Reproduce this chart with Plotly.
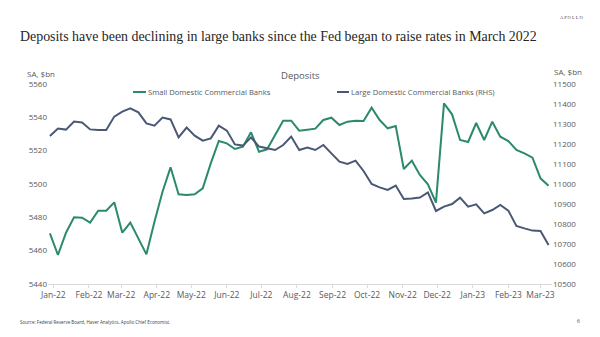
import pandas as pd
import plotly.graph_objects as go

# Weekly dates (H.8 Wednesdays)
dates = pd.date_range("2021-12-29", periods=63, freq="7D")

small_banks = [
    5470.4, 5457.4, 5470.8, 5480.0, 5479.8, 5476.8, 5484.0, 5484.0, 5489.0, 5470.8,
    5476.8, 5467.4, 5457.8, 5477.4, 5495.4, 5510.0, 5493.8, 5493.4, 5493.8, 5497.4,
    5512.4, 5525.8, 5524.4, 5521.0, 5522.4, 5531.0, 5519.4, 5520.8, 5529.4, 5538.0,
    5538.0, 5532.0, 5532.6, 5533.2, 5538.4, 5539.8, 5535.4, 5537.4, 5538.0, 5537.8,
    5545.8, 5538.4, 5533.4, 5534.8, 5509.0, 5514.0, 5505.4, 5499.8, 5488.8, 5548.4,
    5541.8, 5526.4, 5525.2, 5536.6, 5526.4, 5537.4, 5528.4, 5525.8, 5520.4, 5518.4,
    5515.8, 5503.4, 5499.0,
]

large_banks = [
    11240, 11277, 11272, 11312, 11308, 11273, 11270, 11270, 11337, 11362,
    11378, 11358, 11303, 11292, 11332, 11323, 11233, 11282, 11242, 11217,
    11228, 11292, 11267, 11198, 11192, 11233, 11187, 11178, 11170, 11195,
    11237, 11170, 11182, 11170, 11195, 11153, 11112, 11100, 11117, 11065,
    11000, 10983, 10970, 10992, 10925, 10928, 10932, 10958, 10865, 10887,
    10900, 10932, 10887, 10898, 10853, 10870, 10895, 10867, 10790, 10778,
    10767, 10765, 10695,
]

left_ticks = [5440, 5460, 5480, 5500, 5520, 5540, 5560]
right_ticks = [10500, 10600, 10700, 10800, 10900, 11000, 11100, 11200, 11300, 11400, 11500]
month_ticks = pd.date_range("2022-01-01", "2023-03-01", freq="MS")
month_labels = [d.strftime("%b-%y") for d in month_ticks]

GREEN = "#2B8A6C"
SLATE = "#4A5875"
GRAY = "#595959"
FONT = "Open Sans"

fig = go.Figure()
fig.add_trace(go.Scatter(x=dates, y=small_banks, mode="lines", name="Small Domestic Commercial Banks",
                         line=dict(color=GREEN, width=2), yaxis="y"))
fig.add_trace(go.Scatter(x=dates, y=large_banks, mode="lines", name="Large Domestic Commercial Banks (RHS)",
                         line=dict(color=SLATE, width=2), yaxis="y2"))

W, H = 600, 337
L, R, T, B = 48, 48, 84, 53
pw, ph = W - L - R, H - T - B

def px(x):
    return (x - L) / pw

def py(y):
    return (H - B - y) / ph

fig.update_layout(
    width=W, height=H,
    margin=dict(l=L, r=R, t=T, b=B),
    paper_bgcolor="white", plot_bgcolor="white",
    showlegend=False,
    font=dict(family=FONT, color=GRAY, size=8),
    xaxis=dict(
        type="date",
        range=["2021-12-27 08:00", "2023-03-11"],
        tickvals=month_ticks, ticktext=month_labels,
        showgrid=False, zeroline=False,
        showline=True, linecolor="#D9D9D9", linewidth=1,
        ticks="outside", ticklen=3, tickcolor="#D9D9D9",
        tickfont=dict(family=FONT, size=8.5, color=GRAY),
    ),
    yaxis=dict(
        range=[5440, 5560], tickvals=left_ticks, ticktext=[str(v) for v in left_ticks],
        showgrid=False, zeroline=False, showline=False,
        tickfont=dict(family=FONT, size=8, color=GRAY),
    ),
    yaxis2=dict(
        range=[10500, 11500], tickvals=right_ticks, ticktext=[str(v) for v in right_ticks],
        overlaying="y", side="right",
        showgrid=False, zeroline=False, showline=False,
        tickfont=dict(family=FONT, size=8, color=GRAY),
    ),
)

ann = []
def add_text(text, x, y, size, color=GRAY, family=FONT, xanchor="left"):
    ann.append(dict(text=text, x=px(x), y=py(y), xref="paper", yref="paper",
                    xanchor=xanchor, yanchor="middle", showarrow=False,
                    font=dict(family=family, size=size, color=color)))

add_text("Deposits have been declining in large banks since the Fed began to raise rates in March 2022",
         18, 37, 13.9, color="#262626", family="Liberation Serif")
add_text("A P O L L O", 585, 18, 4.5, color="#404040", family="Liberation Serif", xanchor="right")
add_text("Deposits", 300, 75, 9.5, xanchor="center")
add_text("SA, $bn", 25, 74, 8)
add_text("SA, $bn", 552, 71, 8)
add_text("Small Domestic Commercial Banks", 146, 92, 7.6)
add_text("Large Domestic Commercial Banks (RHS)", 349, 92, 7.6)
add_text("Source: Federal Reserve Board, Haver Analytics, Apollo Chief Economist.", 18, 322, 4.5, color="#404040")
add_text("6", 582, 321, 5, color="#404040", xanchor="right")
fig.update_layout(annotations=ann)

shapes = [
    dict(type="line", xref="paper", yref="paper", x0=px(133), x1=px(146), y0=py(92), y1=py(92),
         line=dict(color=GREEN, width=2)),
    dict(type="line", xref="paper", yref="paper", x0=px(337), x1=px(349), y0=py(92), y1=py(92),
         line=dict(color=SLATE, width=2)),
]
fig.update_layout(shapes=shapes)

fig.write_html("out.html")
